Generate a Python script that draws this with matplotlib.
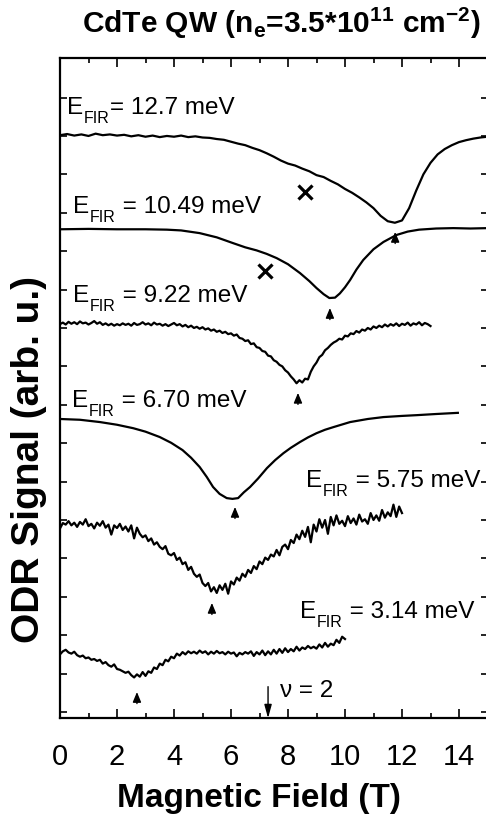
import matplotlib
matplotlib.use("Agg")
import matplotlib.pyplot as plt
import numpy as np

plt.rcParams['font.family'] = ['Liberation Sans', 'DejaVu Sans']
plt.rcParams['mathtext.fontset'] = 'custom'
plt.rcParams['mathtext.rm'] = 'Liberation Sans'
plt.rcParams['mathtext.it'] = 'Liberation Sans:italic'
plt.rcParams['mathtext.bf'] = 'Liberation Sans:bold'

# E_FIR = 12.7 meV
b1 = np.arange(0, 15.01, 0.25)
s1 = [15.02, 15.05, 15.01, 15.04, 15.00, 15.06, 15.02, 15.04, 15.01, 15.03,
      14.99, 15.02, 14.98, 15.01, 14.97, 15.00, 14.98, 15.01, 14.97, 14.99,
      14.96, 14.95, 14.92, 14.90, 14.85, 14.80, 14.76, 14.69, 14.63, 14.55,
      14.46, 14.36, 14.28, 14.23, 14.15, 14.08, 13.98, 13.93, 13.83, 13.74,
      13.62, 13.52, 13.40, 13.27, 13.12, 12.92, 12.78, 12.74, 12.80, 13.12,
      13.58, 14.00, 14.30, 14.52, 14.66, 14.76, 14.84, 14.89, 14.93, 14.96, 14.98]

# E_FIR = 10.49 meV
b2 = [0.0, 1.0, 2.0, 3.0, 3.75, 4.25, 4.9, 5.5, 6.07, 6.5, 6.9, 7.25, 7.6, 8.0,
      8.42, 8.75, 9.0, 9.25, 9.45, 9.65, 9.82, 10.0, 10.18, 10.4, 10.64, 11.0,
      11.35, 11.8, 12.2, 12.6, 13.2, 13.8, 14.4, 15.0]
s2 = [12.57, 12.58, 12.57, 12.57, 12.56, 12.54, 12.47, 12.36, 12.21, 12.10,
      12.02, 11.93, 11.82, 11.66, 11.43, 11.22, 11.04, 10.88, 10.78, 10.79,
      10.90, 11.06, 11.25, 11.52, 11.77, 12.05, 12.24, 12.42, 12.51, 12.56,
      12.59, 12.60, 12.59, 12.60]

# E_FIR = 9.22 meV
b3 = np.arange(0, 13.01, 0.1)
s3 = [10.10, 10.14, 10.09, 10.16, 10.11, 10.15, 10.10, 10.17, 10.12, 10.14,
      10.09, 10.13, 10.18, 10.11, 10.15, 10.08, 10.12, 10.07, 10.11, 10.06,
      10.10, 10.07, 10.12, 10.08, 10.11, 10.06, 10.13, 10.08, 10.10, 10.15,
      10.09, 10.12, 10.07, 10.14, 10.09, 10.11, 10.06, 10.10, 10.05, 10.09,
      10.13, 10.07, 10.10, 10.04, 10.08, 10.02, 10.06, 10.00, 10.03, 9.98,
      10.02, 9.96, 9.99, 9.93, 9.96, 9.90, 9.93, 9.87, 9.90, 9.84,
      9.86, 9.80, 9.83, 9.74, 9.72, 9.66, 9.68, 9.58, 9.60, 9.50,
      9.48, 9.40, 9.38, 9.28, 9.26, 9.16, 9.12, 9.04, 9.00, 8.90,
      8.84, 8.74, 8.66, 8.56, 8.64, 8.58, 8.68, 8.66, 8.86, 9.00,
      9.10, 9.24, 9.30, 9.42, 9.48, 9.56, 9.62, 9.66, 9.72, 9.70,
      9.80, 9.78, 9.86, 9.84, 9.92, 9.88, 9.96, 9.93, 10.00, 9.96,
      10.04, 10.00, 10.06, 10.02, 10.09, 10.04, 10.10, 10.06, 10.12, 10.05,
      10.11, 10.08, 10.14, 10.06, 10.12, 10.09, 10.15, 10.07, 10.13, 10.10, 10.05]

# E_FIR = 6.70 meV
b4 = [0.0, 0.7, 1.4, 2.0, 2.57, 3.0, 3.5, 3.9, 4.3, 4.6, 4.9, 5.15, 5.37, 5.6,
      5.85, 6.05, 6.25, 6.45, 6.67, 6.95, 7.26, 7.55, 7.84, 8.1, 8.42, 8.7, 9.0,
      9.3, 9.6, 10.18, 10.8, 11.35, 12.0, 12.52, 13.2, 13.96]
s4 = [7.63, 7.61, 7.55, 7.48, 7.39, 7.30, 7.16, 7.01, 6.82, 6.62, 6.38, 6.12,
      5.86, 5.68, 5.57, 5.55, 5.57, 5.72, 5.86, 6.08, 6.35, 6.56, 6.74, 6.88,
      7.03, 7.15, 7.26, 7.35, 7.42, 7.55, 7.63, 7.68, 7.71, 7.73, 7.76, 7.79]

# E_FIR = 5.75 meV
b5 = np.arange(0, 12.01, 0.1)
s5 = [4.78, 4.92, 4.88, 4.97, 4.86, 4.93, 4.82, 4.95, 4.88, 5.02,
      4.84, 4.90, 4.78, 4.93, 4.85, 4.97, 4.80, 4.88, 4.62, 4.86,
      4.79, 4.90, 4.74, 4.83, 4.70, 4.86, 4.52, 4.80, 4.64, 4.55,
      4.60, 4.45, 4.52, 4.36, 4.42, 4.30, 4.24, 4.32, 4.12, 4.08,
      4.14, 3.96, 4.02, 3.85, 3.90, 3.70, 3.78, 3.60, 3.52, 3.58,
      3.36, 3.28, 3.36, 3.14, 3.25, 3.10, 3.30, 3.18, 3.34, 3.08,
      3.40, 3.32, 3.50, 3.42, 3.60, 3.52, 3.70, 3.62, 3.80, 3.72,
      3.92, 3.85, 4.02, 3.96, 4.10, 4.05, 4.22, 4.08, 4.30, 4.36,
      4.24, 4.48, 4.40, 4.62, 4.50, 4.72, 4.56, 4.82, 4.42, 4.88,
      4.70, 5.02, 4.80, 5.00, 4.64, 5.08, 4.86, 5.12, 4.90, 4.98,
      4.84, 5.10, 4.92, 5.04, 4.88, 5.14, 4.96, 5.02, 4.90, 5.18,
      5.00, 5.12, 4.98, 5.26, 5.06, 5.20, 5.10, 5.40, 5.08, 5.35, 5.18]

# E_FIR = 3.14 meV
b6 = np.arange(0, 10.01, 0.1)
s6 = [1.50, 1.58, 1.62, 1.55, 1.52, 1.57, 1.48, 1.44, 1.47, 1.40,
      1.42, 1.36, 1.38, 1.33, 1.36, 1.26, 1.30, 1.22, 1.18, 1.24,
      1.12, 1.10, 1.06, 1.02, 1.05, 0.96, 0.90, 0.98, 0.92, 1.04,
      0.94, 1.06, 1.02, 1.16, 1.12, 1.26, 1.22, 1.36, 1.32, 1.44,
      1.40, 1.52, 1.47, 1.56, 1.50, 1.58, 1.53, 1.57, 1.52, 1.60,
      1.54, 1.58, 1.50, 1.57, 1.52, 1.59, 1.53, 1.56, 1.50, 1.57,
      1.52, 1.55, 1.45, 1.54, 1.50, 1.56, 1.52, 1.58, 1.46, 1.56,
      1.50, 1.60, 1.48, 1.58, 1.50, 1.62, 1.52, 1.64, 1.54, 1.66,
      1.56, 1.64, 1.58, 1.70, 1.60, 1.68, 1.64, 1.72, 1.66, 1.70,
      1.65, 1.76, 1.68, 1.80, 1.70, 1.78, 1.74, 1.88, 1.80, 1.96, 1.90]

# label tails (after "E" + subscript "FIR")
label_tail = ['= 12.7 meV', ' = 10.49 meV', ' = 9.22 meV', ' = 6.70 meV',
              ' = 5.75 meV', ' = 3.14 meV']
label_b = [0.25, 0.46, 0.46, 0.42, 8.63, 8.42]
label_s = [15.57, 13.0, 10.68, 7.94, 5.86, 2.45]

# resonance positions (arrows) and spin-flip marks (crosses)
arrow_b = [11.76, 9.47, 8.35, 6.14, 5.33, 2.7]
arrow_tip = [12.5, 10.52, 8.31, 5.34, 2.84, 0.52]
cross_b = [8.6, 7.2]
cross_s = [13.54, 11.48]
nu2_b = 7.3

fig = plt.figure(figsize=(4.86, 8.17), dpi=100)
ax = fig.add_axes([60 / 486, 1 - 718 / 817, 427.5 / 486, 660 / 817])

for b, s in [(b1, s1), (b2, s2), (b3, s3), (b4, s4), (b5, s5), (b6, s6)]:
    ax.plot(b, s, color='black', lw=1.6, solid_joinstyle='round')

ax.plot(cross_b, cross_s, 'x', color='black', ms=10, mew=2.3)

for b, t in zip(arrow_b, arrow_tip):
    ax.annotate('', xy=(b, t), xytext=(b, t - 0.3),
                arrowprops=dict(arrowstyle='-|>,head_length=0.6,head_width=0.25',
                                color='black', lw=1.0, shrinkA=0, shrinkB=0))

ax.annotate('', xy=(nu2_b, -0.16), xytext=(nu2_b, 0.66),
            arrowprops=dict(arrowstyle='-|>,head_length=0.8,head_width=0.22',
                            color='black', lw=1.0, shrinkA=0, shrinkB=0))
ax.text(7.72, 0.39, 'ν = 2', fontsize=17.5, va='baseline', ha='left')

fig.canvas.draw()
for tail, b, s in zip(label_tail, label_b, label_s):
    t1 = ax.text(b, s, 'E', fontsize=17.5, va='baseline', ha='left')
    t2 = ax.annotate('FIR', xy=(1, 0), xycoords=t1, xytext=(0.5, -3),
                     textcoords='offset points', fontsize=11.5,
                     va='baseline', ha='left')
    ax.annotate(tail, xy=(1, 0), xycoords=(t2, t1), xytext=(0.5, 0),
                textcoords='offset points', fontsize=17.5, va='bottom', ha='left')

ax.set_xlim(0, 15)
ax.set_ylim(-0.156, 17.03)
ax.set_xticks(np.arange(0, 15, 2))
ax.set_xticks(np.arange(1, 15, 2), minor=True)
ax.set_yticks(np.arange(0, 17, 1))
ax.tick_params(axis='x', which='major', direction='in', top=True, length=6.5,
               width=1.2, labelsize=21, pad=18)
ax.tick_params(axis='x', which='minor', direction='in', top=True, length=3.5, width=1.2)
ax.tick_params(axis='y', direction='in', right=True, length=5, width=1.2, labelleft=False)
for sp in ax.spines.values():
    sp.set_linewidth(1.6)

ax.set_xlabel('Magnetic Field (T)', fontsize=24, fontweight='bold')
ax.xaxis.set_label_coords(0.4655, -0.098)
ax.set_ylabel('ODR Signal (arb. u.)', fontsize=28, fontweight='bold')
ax.yaxis.set_label_coords(-0.03, 0.391)

fig.text(281 / 486, 1 - 33 / 817,
         r'CdTe QW (n$_{\mathbf{e}}$=3.5*10$^{\mathbf{11}}$ cm$^{\mathbf{-2}}$)',
         fontsize=21.5, fontweight='bold', ha='center', va='baseline')

fig.savefig('out.png', dpi=100)
